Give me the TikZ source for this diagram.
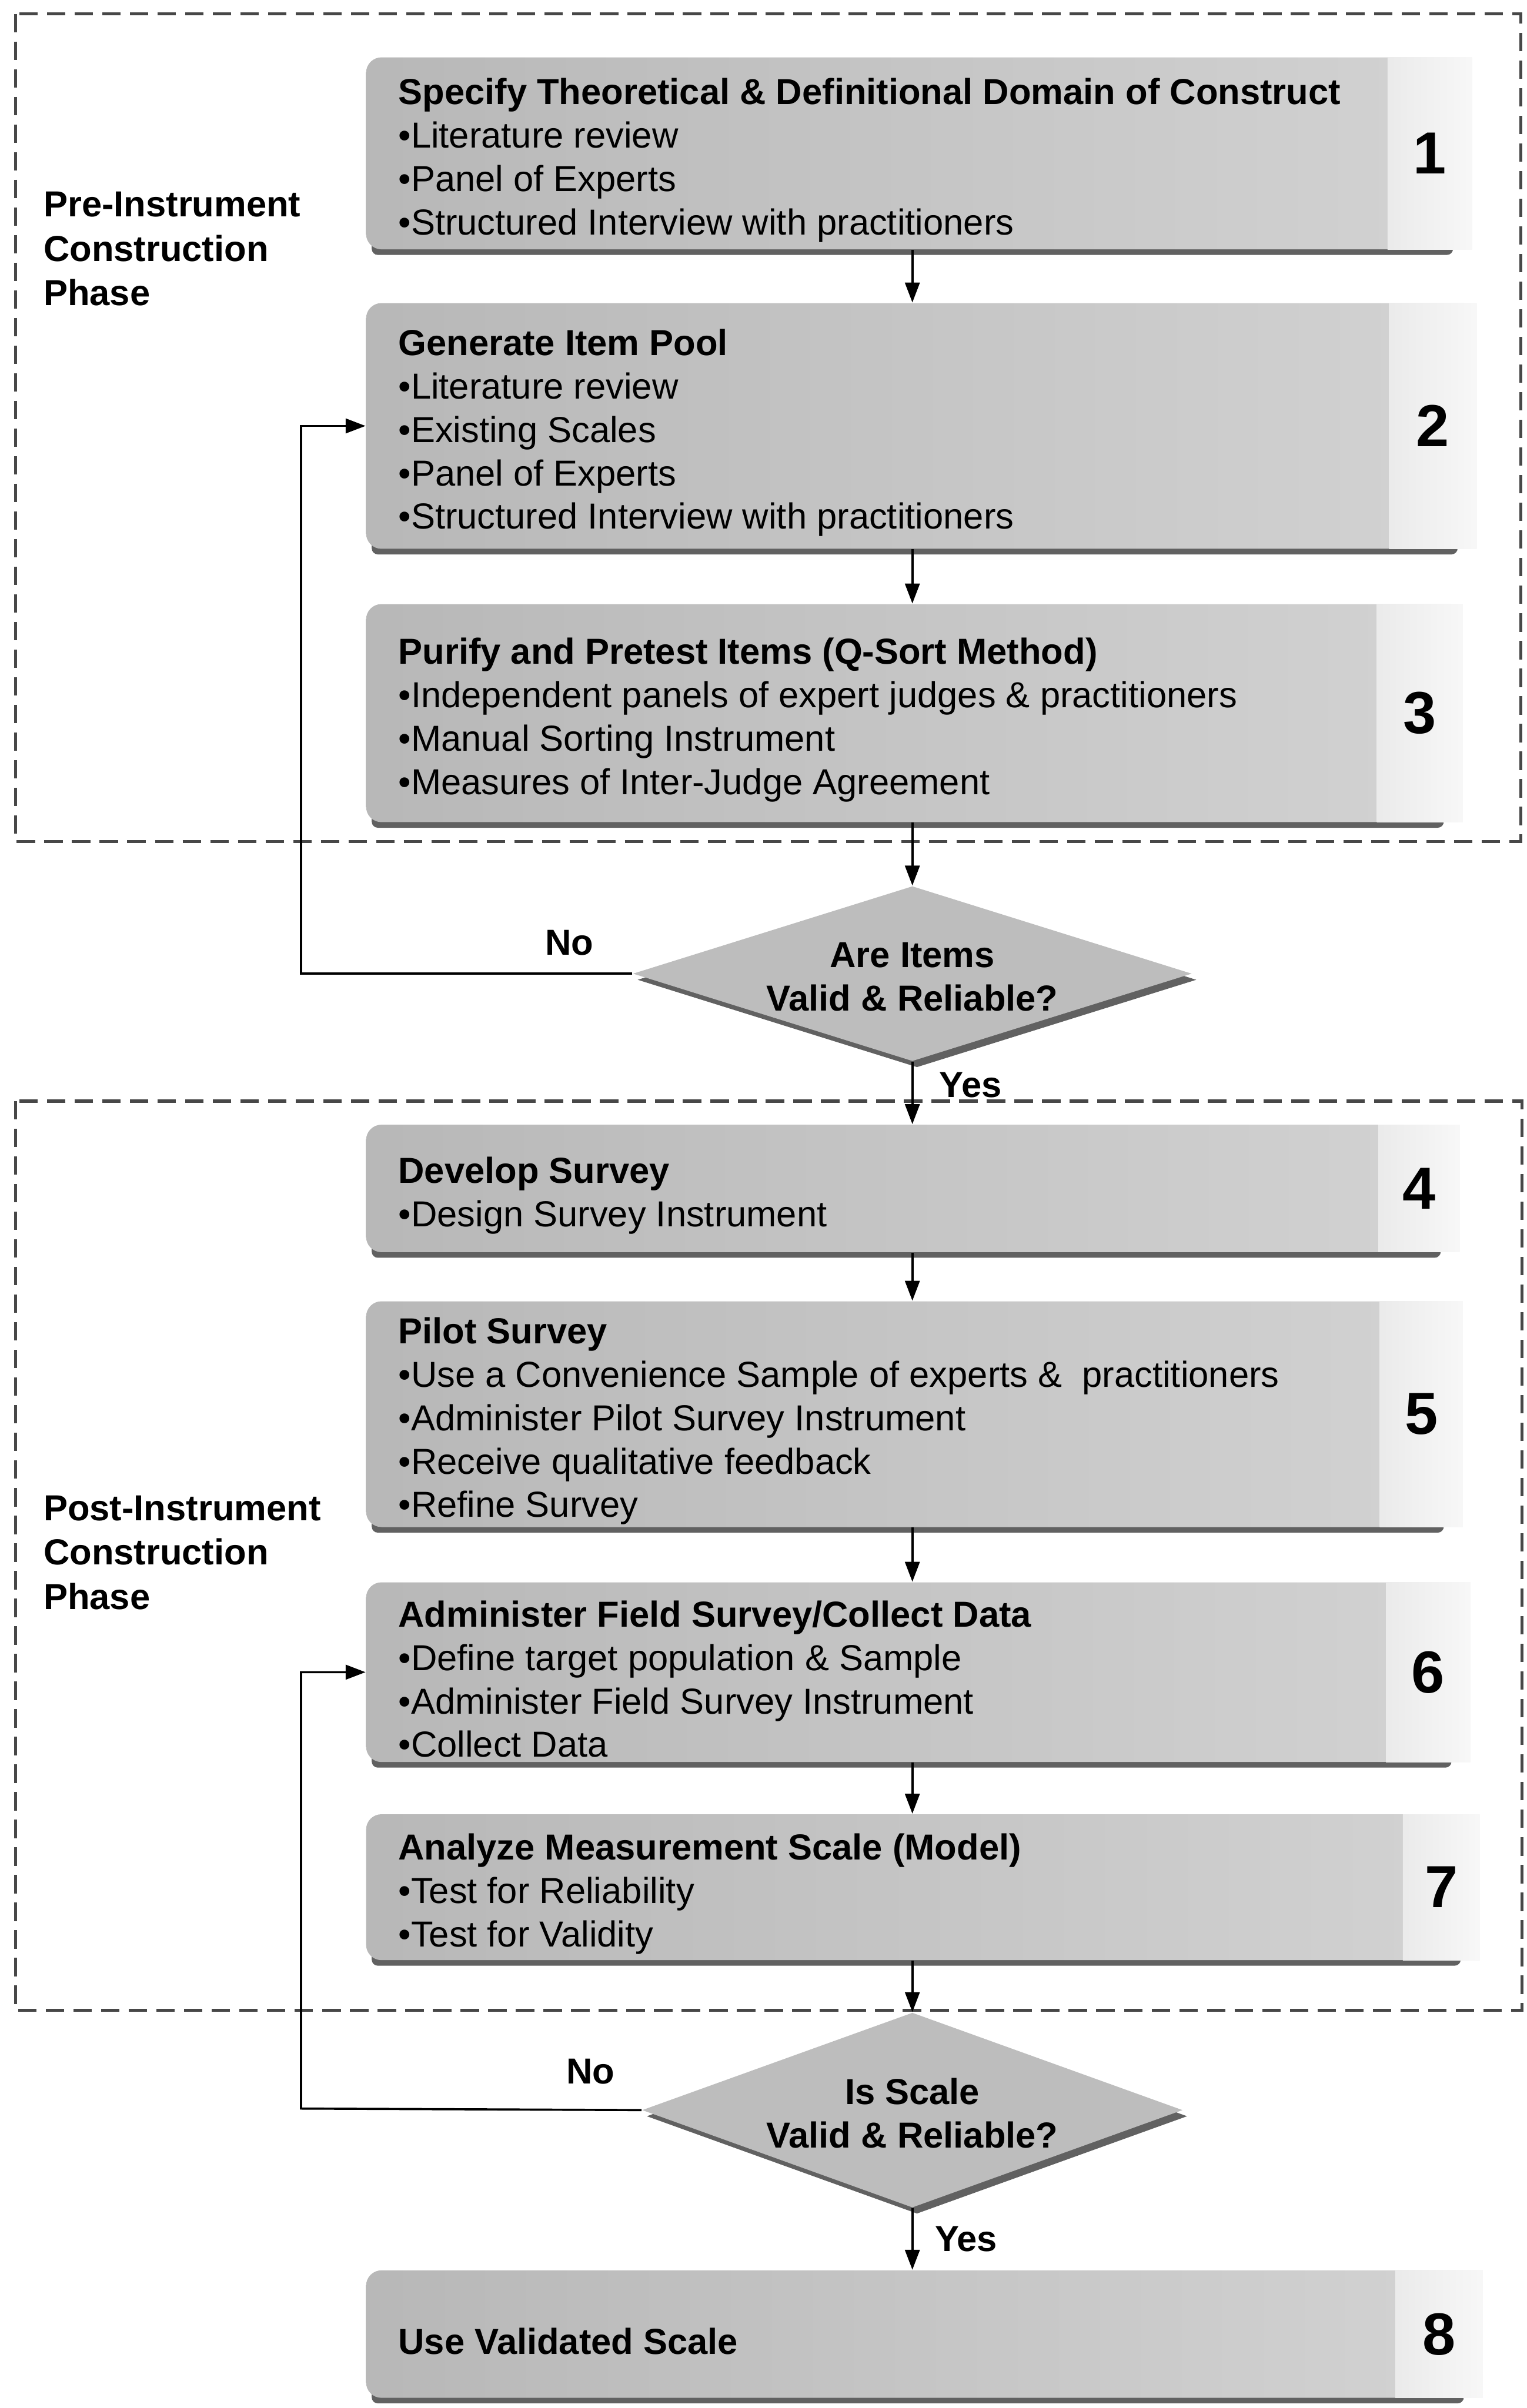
\documentclass[tikz,border=0pt]{standalone}
\usepackage{fontspec}
\setmainfont{Liberation Sans}
\usetikzlibrary{arrows.meta}
\usetikzlibrary{shapes.geometric}
\usetikzlibrary{shadows}

\begin{document}
\begin{tikzpicture}[x=0.02cm,y=-0.02cm,
	font=\fontsize{13.4}{16.1}\selectfont,
	stagebox/.style={rounded corners=0.2cm,left color=black!28,right color=black!18,inner sep=0,anchor=north west},
	numbox/.style={left color=black!8,right color=black!3,inner sep=0,anchor=north west,font=\fontsize{22}{22}\selectfont\bfseries},
	stagetext/.style={anchor=west,align=left,inner sep=0,xshift=0.42cm,yshift=-0.09cm},
	decision/.style={diamond,fill=black!26,inner sep=0,drop shadow={shadow xshift=0.06cm,shadow yshift=-0.08cm,fill=black!62,opacity=1}},
	asktext/.style={align=center,inner sep=0,yshift=-0.04cm,font=\fontsize{13.4}{16.1}\selectfont\bfseries},
	phase/.style={anchor=west,align=left,inner sep=0,font=\fontsize{13.4}{16.5}\selectfont\bfseries},
	phaseframe/.style={draw=black!72,line width=1.1pt,dash pattern=on 0.24cm off 0.12cm},
	flow/.style={draw,line width=0.8pt,-{Triangle[length=0.26cm,width=0.19cm]}},
	lbl/.style={inner sep=0,font=\fontsize{13.4}{16.1}\selectfont\bfseries}]

	\path[use as bounding box,fill=white] (0,0) rectangle (994,1568);

	% the two phases
	\draw[phaseframe] (10,9) rectangle (990,548);
	\draw[phaseframe] (10,717) rectangle (991,1309);
	\node[phase] (pre) at (28,162) {Pre-Instrument\\Construction\\Phase};
	\node[phase] (post) at (28,1011) {Post-Instrument\\Construction\\Phase};

	% stages: number/top/bottom/end of grey part/end of number part
	\foreach \n/\t/\b/\g/\l in {1/37/162/903/958, 2/197/357/904/961, 3/393/535/896/952, 4/732/815/897/950,
			5/847/994/898/952, 6/1030/1147/902/957, 7/1181/1276/913/963, 8/1478/1561/908/965} {
		\fill[black!62,rounded corners=0.08cm] (242,\b-8) rectangle (\l-12,\b+4);
		\node[stagebox,minimum width={(\g-228)*0.02cm},minimum height={(\b-\t)*0.02cm}] (s\n) at (238,\t) {};
		\node[numbox,minimum width={(\l-\g)*0.02cm},minimum height={(\b-\t)*0.02cm}] (n\n) at (\g,\t) {\n};
	}

	\node[stagetext] at (s1.west) {\textbf{Specify Theoretical \& Definitional Domain of Construct}\\•Literature review\\•Panel of Experts\\•Structured Interview with practitioners};
	\node[stagetext] at (s2.west) {\textbf{Generate Item Pool}\\•Literature review\\•Existing Scales\\•Panel of Experts\\•Structured Interview with practitioners};
	\node[stagetext] at (s3.west) {\textbf{Purify and Pretest Items (Q-Sort Method)}\\•Independent panels of expert judges \& practitioners\\•Manual Sorting Instrument\\•Measures of Inter-Judge Agreement};
	\node[stagetext] at (s4.west) {\textbf{Develop Survey}\\•Design Survey Instrument};
	\node[stagetext] at (s5.west) {\textbf{Pilot Survey}\\•Use a Convenience Sample of experts \&~ practitioners\\•Administer Pilot Survey Instrument\\•Receive qualitative feedback\\•Refine Survey};
	\node[stagetext] at (s6.west) {\textbf{Administer Field Survey/Collect Data}\\•Define target population \& Sample\\•Administer Field Survey Instrument\\•Collect Data};
	\node[stagetext] at (s7.west) {\textbf{Analyze Measurement Scale (Model)}\\•Test for Reliability\\•Test for Validity};
	\node[stagetext] at (s8.west) {\textbf{Use Validated Scale}};

	% checks
	\node[decision,minimum width=7.28cm,minimum height=2.28cm] (q1) at (594,634) {};
	\node[asktext] at (q1) {Are Items\\Valid \& Reliable?};
	\node[decision,minimum width=7.04cm,minimum height=2.54cm] (q2) at (594,1374) {};
	\node[asktext] at (q2) {Is Scale\\Valid \& Reliable?};

	\draw[flow] (s1.south -| q1) -- (s2.north -| q1);
	\draw[flow] (s2.south -| q1) -- (s3.north -| q1);
	\draw[flow] (s3.south -| q1) -- (q1.north);
	\draw[flow] (q1.south) -- node[lbl,pos=0.37,xshift=0.76cm] {Yes} (s4.north -| q1);
	\draw[flow] (s4.south -| q1) -- (s5.north -| q1);
	\draw[flow] (s5.south -| q1) -- (s6.north -| q1);
	\draw[flow] (s6.south -| q1) -- (s7.north -| q1);
	\draw[flow] (s7.south -| q1) -- (q2.north);
	\draw[flow] (q2.south) -- node[lbl,pos=0.5,xshift=0.7cm] {Yes} (s8.north -| q2);

	% loops back
	\coordinate (back1) at (196,634);
	\coordinate (back2) at (196,1373);
	\draw[flow] (q1.west) -- node[lbl,pos=0.19,yshift=0.4cm] {No} (back1) |- (s2.west);
	\draw[flow] (q2.west) -- node[lbl,pos=0.15,yshift=0.5cm] {No} (back2) |- (s6.west);
\end{tikzpicture}
\end{document}
